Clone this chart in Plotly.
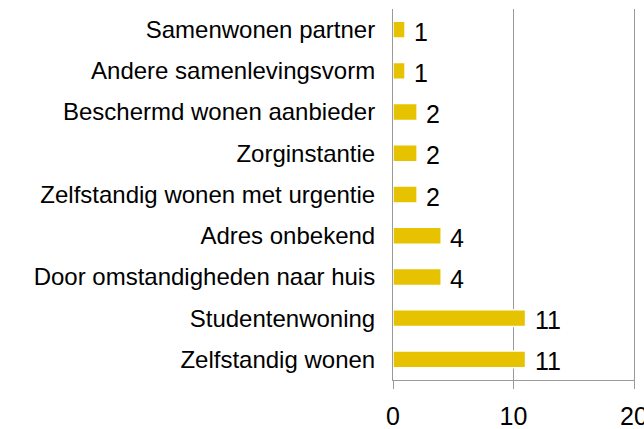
import plotly.graph_objects as go

categories = [
    "Samenwonen partner",
    "Andere samenlevingsvorm",
    "Beschermd wonen aanbieder",
    "Zorginstantie",
    "Zelfstandig wonen met urgentie",
    "Adres onbekend",
    "Door omstandigheden naar huis",
    "Studentenwoning",
    "Zelfstandig wonen",
]
values = [1, 1, 2, 2, 2, 4, 4, 11, 11]
x_ticks = [0, 10, 20]

FONT = "Liberation Sans, Arial, sans-serif"
BAR = "#E6C200"

fig = go.Figure()
fig.add_trace(go.Bar(
    y=categories,
    x=values,
    orientation="h",
    marker=dict(color=BAR, line=dict(color="white", width=1.5)),
    hoverinfo="skip",
))

for c, v in zip(categories, values):
    fig.add_annotation(
        x=v, y=c, text=str(v), showarrow=False,
        xanchor="left", yanchor="middle", xshift=7, yshift=-2,
        font=dict(family=FONT, size=25, color="#000000"),
    )

fig.update_layout(
    width=644, height=429,
    margin=dict(l=393, r=10, t=9, b=49),
    paper_bgcolor="white", plot_bgcolor="white",
    bargap=0.59,
    showlegend=False,
    font=dict(family=FONT, color="#000000"),
)
fig.update_xaxes(
    range=[0, 20], tickvals=x_ticks, ticktext=[str(t) for t in x_ticks],
    showgrid=True, gridcolor="#9a9a9a", gridwidth=1,
    showline=True, linecolor="#9a9a9a", linewidth=1,
    ticks="outside", ticklen=8, tickcolor="#9a9a9a",
    tickfont=dict(family=FONT, size=25, color="#000000"),
    ticklabeloverflow="allow", ticklabelstandoff=6,
    zeroline=False, fixedrange=True, automargin=False,
)
fig.update_yaxes(
    autorange="reversed",
    showgrid=False, showline=True, mirror=True,
    linecolor="#9a9a9a", linewidth=1,
    ticks="", ticklabelstandoff=12,
    tickfont=dict(family=FONT, size=24, color="#000000"),
    zeroline=False, automargin=False, fixedrange=True,
)

fig.write_html(
    "out.html",
    config={"displayModeBar": False, "staticPlot": True},
    post_script="document.body.style.margin='0';document.body.style.overflow='hidden';",
)
